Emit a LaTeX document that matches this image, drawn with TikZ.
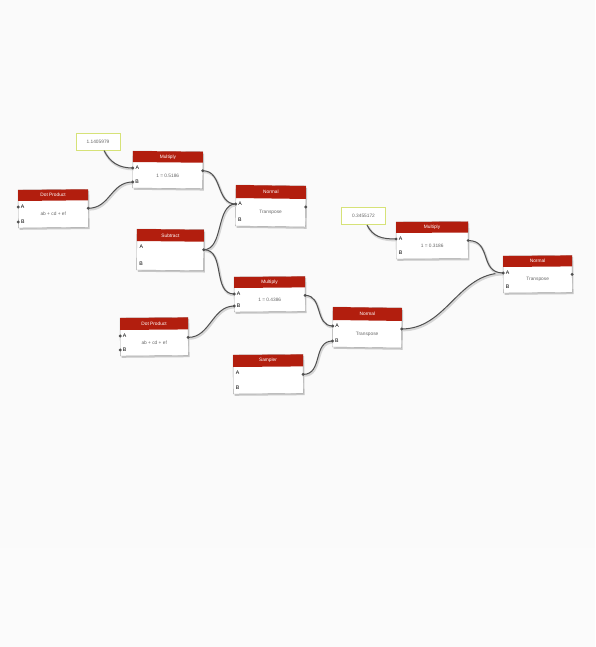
\documentclass[tikz,border=0pt]{standalone}
\usepackage{fontspec}
\setmainfont{Liberation Sans}
\definecolor{hdr}{RGB}{178,30,14}
\definecolor{notebd}{RGB}{214,226,120}
\definecolor{wirec}{RGB}{80,80,80}
\definecolor{bgc}{RGB}{251,251,251}
\tikzset{
  ttl/.style={text=white,font=\fontsize{4.8}{5}\selectfont,inner sep=0pt},
  prt/.style={text=black,font=\fontsize{5.2}{6}\selectfont,inner sep=0pt},
  val/.style={text=black!60,font=\fontsize{4.8}{5}\selectfont,inner sep=0pt},
  wire/.style={draw=wirec,line width=1pt},
  wireshadow/.style={draw=black!16,line width=2.4pt},
  portdot/.style={fill=wirec},
  notebox/.style={draw=notebd,line width=1pt,fill=white,text=black!60,
    font=\fontsize{4.8}{5}\selectfont,minimum width=44pt,minimum height=17pt,inner sep=1pt}
}
\newcommand{\gnode}[9]{%
 \begin{scope}[shift={(#2,#3)},rotate=#9]
   \fill[black!22] (1.2,1.8) rectangle ++(#4,#5);
   \draw[draw=black!35,fill=white] (0,0) rectangle (#4,#5);
   \fill[hdr] (0,0) rectangle (#4,#6);
   \node[ttl] (#1-t) at ({#4/2},{#6/2}) {#7};
   \node[prt,anchor=west] (#1-la) at (2.5,{#6+6}) {A};
   \node[prt,anchor=west] (#1-lb) at (2.5,{#5-6}) {B};
   \node[val] (#1-v) at ({#4/2},{(#6+#5)/2}) {#8};
   \coordinate (#1-A) at (0,{#6+6});
   \coordinate (#1-B) at (0,{#5-6});
   \coordinate (#1-out) at (#4,{#6+8});
 \end{scope}}
\begin{document}
\begin{tikzpicture}[x=1pt,y=-1pt]
\useasboundingbox (0,0) rectangle (595,647);
\fill[bgc] (0,0) rectangle (595,647);
\fill[black!2] (0,0) rectangle (595,548);

% notes
\node[notebox] (note1) at (98,142) {1.1405979};
\node[notebox] (note2) at (363.5,216) {0.3455172};
\coordinate (note1-out) at (104,150.5);
\coordinate (note2-out) at (367,225);

% nodes
\gnode{m1}{133}{151}{70}{37}{11}{Multiply}{1 = 0.5186}{-0.6}
\gnode{d1}{18}{190}{70}{38}{11}{Dot Product}{ab + cd + ef}{0.6}
\gnode{n1}{236}{185}{70}{41}{13}{Normal}{Transpose}{-0.8}
\gnode{s1}{137}{229}{67}{41}{12}{Subtract}{}{-0.6}
\gnode{m2}{234}{277}{71}{35}{11}{Multiply}{1 = 0.4386}{0.5}
\gnode{d2}{120}{318}{68}{38}{12}{Dot Product}{ab + cd + ef}{0.5}
\gnode{sm}{233}{355}{70}{39}{12}{Sampler}{}{0.5}
\gnode{n2}{333}{307}{69}{40}{13}{Normal}{Transpose}{-0.8}
\gnode{m3}{396}{222}{72}{37}{11}{Multiply}{1 = 0.3186}{0.4}
\gnode{o}{503}{256}{69}{37}{11}{Normal}{Transpose}{0.5}

% wires
\foreach \a/\b in {note1-out/m1-A, note2-out/m3-A}{
  \draw[wireshadow] ([shift={(0.8,1.2)}]\a) .. controls +(6,12) and +(-14,0) .. ([shift={(0.8,1.2)}]\b);
  \draw[wire] (\a) .. controls +(6,12) and +(-14,0) .. (\b);
}
\foreach \a/\b/\c in {d1-out/m1-B/22, m1-out/n1-A/20, s1-out/n1-A/20, s1-out/m2-A/22,
  d2-out/m2-B/22, m2-out/n2-A/18, sm-out/n2-B/20, n2-out/o-A/45, m3-out/o-A/24}{
  \draw[wireshadow] ([shift={(0.8,1.2)}]\a) .. controls +(\c,0) and +(-\c,0) .. ([shift={(0.8,1.2)}]\b);
  \draw[wire] (\a) .. controls +(\c,0) and +(-\c,0) .. (\b);
}
% port dots
\foreach \p in {m1-A,m1-B,n1-A,m2-A,m2-B,n2-A,n2-B,m3-A,o-A,d1-A,d1-B,d2-A,d2-B,
  m1-out,d1-out,s1-out,m2-out,d2-out,sm-out,n2-out,m3-out,n1-out,o-out}{
  \fill[portdot] (\p) circle (1.6);
}
\end{tikzpicture}
\end{document}
